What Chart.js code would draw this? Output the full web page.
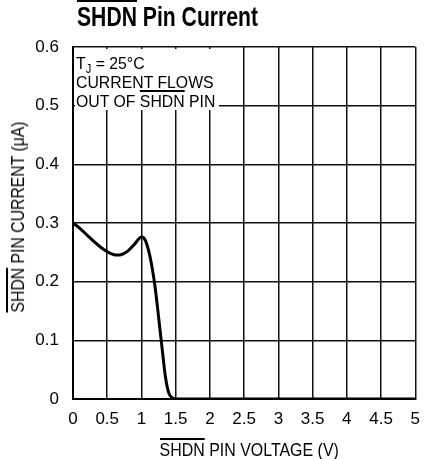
<!DOCTYPE html>
<html>
<head>
<meta charset="utf-8">
<script src="https://cdn.jsdelivr.net/npm/chart.js@4"></script>
<style>
  body { margin: 0; background: #fff; }
  #wrap { position: relative; width: 430px; height: 459px; font-family: "Liberation Sans", Arial, sans-serif; color: #000; }
  canvas { position: absolute; left: 0; top: 0; }
  .ov { text-decoration: overline; text-decoration-thickness: 1.5px; }
  .lbl { position: absolute; white-space: nowrap; display: inline-block; }
  #title { left: 77px; top: 2px; font-size: 27px; line-height: 30px; font-weight: bold; transform-origin: 0 0; }
  #xtitle { top: 440px; font-size: 18px; line-height: 20px; }
  #ytitle { font-size: 18px; line-height: 20px; }
  #note { position: absolute; left: 75px; top: 49px; width: 144px; height: 61px; background: #fff; }
  .nl { font-size: 17px; line-height: 20px; left: 76px; transform-origin: 0 0; }
</style>
</head>
<body>
<div id="wrap">
  <canvas id="chart" width="430" height="459"></canvas>
  <div id="title" class="lbl"><span class="ov">SHDN</span> Pin Current</div>
  <div id="ytitle" class="lbl"><span class="ov">SHDN</span> PIN CURRENT (μA)</div>
  <div id="xtitle" class="lbl"><span class="ov">SHDN</span> PIN VOLTAGE (V)</div>
  <div id="note"></div>
  <div class="lbl nl" style="top:54px">T<span style="font-size:12px;position:relative;top:4px">J</span> = 25°C</div>
  <div class="lbl nl" style="top:72.5px">CURRENT FLOWS</div>
  <div class="lbl nl" style="top:92px">OUT OF <span class="ov">SHDN</span> PIN</div>
</div>
<script>
// curve
const voltage = [0, 0.1, 0.2, 0.3, 0.4, 0.5, 0.6, 0.65, 0.7, 0.8, 0.9, 1.0, 1.05, 1.1, 1.15, 1.2, 1.25, 1.3, 1.35, 1.4, 1.45, 1.5, 5];
const current = [0.300, 0.291, 0.280, 0.269, 0.259, 0.251, 0.246, 0.2455, 0.246, 0.252, 0.264, 0.276, 0.272, 0.255, 0.228, 0.190, 0.140, 0.088, 0.038, 0.010, 0.002, 0, 0];

const xTickLabels = ['0', '0.5', '1', '1.5', '2', '2.5', '3', '3.5', '4', '4.5', '5'];
const yTickLabels = ['0', '0.1', '0.2', '0.3', '0.4', '0.5', '0.6'];

const tickFont = { family: '"Liberation Sans", Arial, sans-serif', size: 17 };

const points = voltage.map((v, i) => ({ x: v, y: current[i] }));

// squeeze the html labels to the condensed look of the original
function squeeze(id, w) {
  const el = document.getElementById(id);
  el.style.transform = 'scaleX(' + (w / el.offsetWidth) + ')';
}
squeeze('title', 181);
document.querySelectorAll('.nl').forEach((el) => {
  el.style.transform = 'scaleX(0.93)';
});

const xt = document.getElementById('xtitle');
const xs = 179 / xt.offsetWidth;
xt.style.left = (248.5 - xt.offsetWidth / 2) + 'px';
xt.style.transform = 'scaleX(' + xs + ')';

const yt = document.getElementById('ytitle');
const ys = 191 / yt.offsetWidth;
yt.style.left = (17.5 - yt.offsetWidth / 2) + 'px';
yt.style.top = (217 - yt.offsetHeight / 2) + 'px';
yt.style.transform = 'rotate(-90deg) scaleX(' + ys + ')';

new Chart(document.getElementById('chart').getContext('2d'), {
  type: 'line',
  data: {
    datasets: [{
      data: points,
      borderColor: '#000',
      borderWidth: 3,
      pointRadius: 0,
      cubicInterpolationMode: 'monotone',
      fill: false
    }]
  },
  options: {
    responsive: false,
    animation: false,
    layout: { padding: { top: 47, right: 6, left: 0, bottom: 0 } },
    plugins: { legend: { display: false }, tooltip: { enabled: false } },
    scales: {
      x: {
        type: 'linear',
        min: 0,
        max: 5,
        afterFit: (s) => { s.height = 60; },
        ticks: {
          stepSize: 0.5,
          color: '#000',
          font: tickFont,
          padding: 10,
          maxRotation: 0,
          callback: (v, i) => xTickLabels[i]
        },
        grid: { color: '#111', lineWidth: 1.5, drawTicks: false },
        border: { color: '#000', width: 2 }
      },
      y: {
        min: 0,
        max: 0.6,
        afterFit: (s) => { s.width = 73; },
        ticks: {
          stepSize: 0.1,
          color: '#000',
          font: tickFont,
          padding: 14,
          callback: (v, i) => yTickLabels[i]
        },
        grid: { color: '#111', lineWidth: 1.5, drawTicks: false },
        border: { color: '#000', width: 2 }
      }
    }
  }
});
</script>
</body>
</html>
